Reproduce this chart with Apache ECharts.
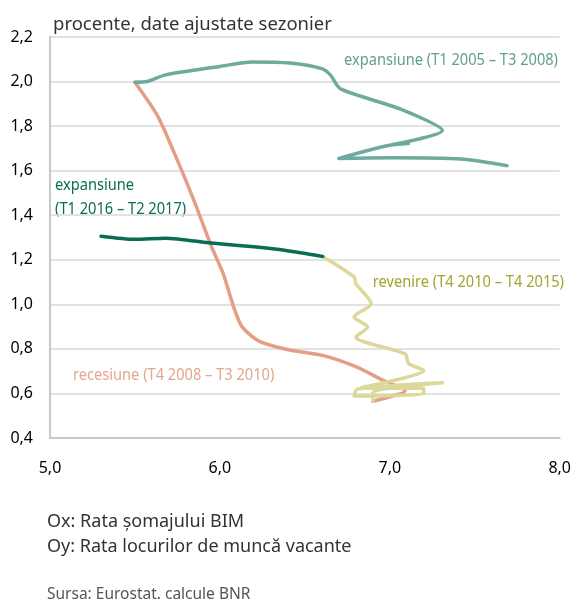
<!DOCTYPE html>
<html>
<head>
<meta charset="utf-8">
<script src="https://cdn.jsdelivr.net/npm/echarts@6/dist/echarts.min.js"></script>
<style>
  html, body { margin: 0; padding: 0; background: #fff; }
  #chart { width: 574px; height: 601px; }
</style>
</head>
<body>
<div id="chart"></div>
<script>
// axa X: rata somajului, axa Y: rata locurilor de munca vacante
const xTicks = [5, 6, 7, 8];
const yTicks = [0.4, 0.6, 0.8, 1.0, 1.2, 1.4, 1.6, 1.8, 2.0, 2.2];

// expansiune T1 2005 - T3 2008
const expansion1 = [
  [7.69, 1.622], [7.42, 1.652], [7.02, 1.658], [6.70, 1.655], [6.99, 1.713],
  [7.11, 1.722], [7.01, 1.716], [7.31, 1.78], [7.06, 1.877], [6.71, 1.967],
  [6.65, 2.03], [6.60, 2.058], [6.41, 2.083], [6.19, 2.088], [6.0, 2.068],
  [5.68, 2.03], [5.57, 2.0], [5.5, 1.997]
];
// recesiune T4 2008 - T3 2010
const recession = [
  [5.5, 1.997], [5.63, 1.85], [5.72, 1.70], [5.84, 1.48], [5.95, 1.26],
  [6.02, 1.137], [6.08, 0.99], [6.13, 0.9], [6.23, 0.835], [6.41, 0.795],
  [6.61, 0.77], [6.80, 0.72], [6.97, 0.655], [7.09, 0.612], [6.90, 0.565]
];
// revenire T4 2010 - T4 2015
const recovery = [
  [6.90, 0.565], [6.90, 0.605], [7.31, 0.648], [6.81, 0.620], [6.79, 0.588],
  [7.20, 0.598], [7.20, 0.622], [6.83, 0.625], [7.20, 0.703], [7.11, 0.735],
  [7.09, 0.778], [6.80, 0.853], [6.87, 0.898], [6.79, 0.943], [6.89, 1.003],
  [6.80, 1.093], [6.79, 1.123], [6.605, 1.215]
];
// expansiune T1 2016 - T2 2017
const expansion2 = [
  [6.605, 1.215], [6.38, 1.243], [6.2, 1.258], [5.95, 1.275], [5.68, 1.297],
  [5.5, 1.292], [5.3, 1.306]
];

const plain = "'Noto Sans', 'Open Sans', sans-serif";

function fmt(v) {
  return v.toFixed(1).replace('.', ',');
}

function lineSeries(name, data, color, z) {
  return {
    name: name,
    type: 'line',
    data: data,
    showSymbol: false,
    smooth: 0.25,
    z: z,
    lineStyle: { color: color, width: 3.5, cap: 'round', join: 'round' },
    itemStyle: { color: color },
    emphasis: { disabled: true }
  };
}

// etichete in interiorul graficului, ingustate pe orizontala
function note(text, x, y, color, align) {
  return {
    type: 'text', x: x, y: y, scaleX: 0.86,
    style: { text: text, fill: color, font: '17px ' + plain, align: align, verticalAlign: 'middle' }
  };
}

const chart = echarts.init(document.getElementById('chart'));

const option = {
  animation: false,
  grid: { left: 50, right: 14, top: 37, bottom: 163 },
  title: {
    text: 'procente, date ajustate sezonier',
    left: 48,
    top: 10,
    textStyle: { fontFamily: plain, fontSize: 18.5, fontWeight: 'normal', color: '#333' }
  },
  xAxis: {
    type: 'value',
    min: xTicks[0],
    max: xTicks[xTicks.length - 1],
    interval: 1,
    axisLine: { show: true, onZero: false, lineStyle: { color: '#c8c8c8', width: 2 } },
    axisTick: { show: false },
    splitLine: { show: false },
    axisLabel: {
      margin: 22,
      formatter: fmt,
      fontFamily: plain,
      fontSize: 16,
      color: '#000'
    }
  },
  yAxis: {
    type: 'value',
    min: yTicks[0],
    max: yTicks[yTicks.length - 1],
    interval: 0.2,
    axisLine: { show: true, onZero: false, lineStyle: { color: '#c8c8c8', width: 2 } },
    axisTick: { show: false },
    splitLine: { show: true, lineStyle: { color: '#d9d9d9', width: 1.5 } },
    axisLabel: {
      margin: 17,
      formatter: fmt,
      fontFamily: plain,
      fontSize: 16,
      color: '#000'
    }
  },
  series: [
    lineSeries('recesiune', recession, '#e49e86', 2),
    lineSeries('revenire', recovery, '#dcd89a', 3),
    lineSeries('expansiune 2005', expansion1, '#6eaa9d', 4),
    lineSeries('expansiune 2016', expansion2, '#0b6c55', 5)
  ],
  graphic: [
    note('expansiune (T1 2005 – T3 2008)', 558, 60, '#5e9f92', 'right'),
    note('expansiune', 55, 185, '#0b6c55', 'left'),
    note('(T1 2016 – T2 2017)', 55, 209, '#0b6c55', 'left'),
    note('revenire (T4 2010 – T4 2015)', 564, 282, '#a3a332', 'right'),
    note('recesiune (T4 2008 – T3 2010)', 73, 375, '#e2a68f', 'left'),
    { type: 'text', x: 47, y: 522,
      style: { text: 'Ox: Rata șomajului BIM', fill: '#333', font: '18px ' + plain, align: 'left', verticalAlign: 'middle' } },
    { type: 'text', x: 47, y: 547,
      style: { text: 'Oy: Rata locurilor de muncă vacante', fill: '#333', font: '18px ' + plain, align: 'left', verticalAlign: 'middle' } },
    { type: 'text', x: 47, y: 595,
      style: { text: 'Sursa: Eurostat. calcule BNR', fill: '#555', font: '15.5px ' + plain, align: 'left', verticalAlign: 'middle' } }
  ]
};

chart.setOption(option);
</script>
</body>
</html>
